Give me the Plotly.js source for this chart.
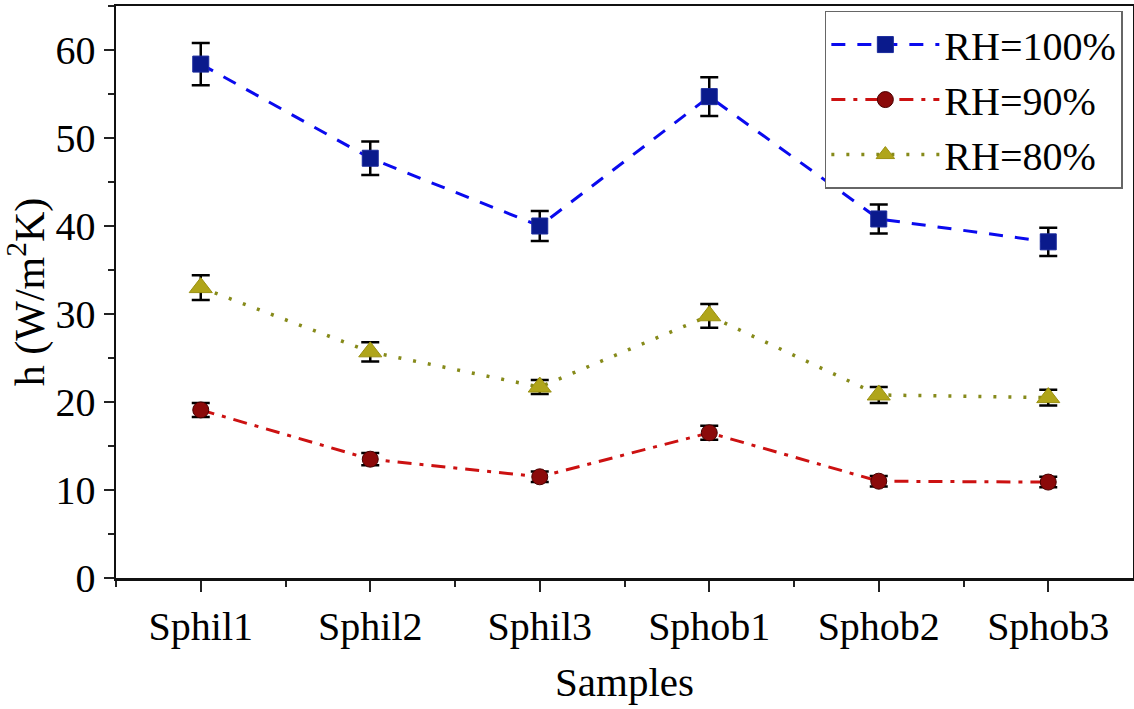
<!DOCTYPE html>
<html>
<head>
<meta charset="utf-8">
<script src="https://cdn.plot.ly/plotly-3.0.1.min.js"></script>
<style>html,body{margin:0;padding:0;background:#fff;}#chart{width:1134px;height:709px;}</style>
</head>
<body>
<div id="chart"></div>
<script>
var categories = ["Sphil1", "Sphil2", "Sphil3", "Sphob1", "Sphob2", "Sphob3"];
var rh100 = [58.4, 47.7, 40.0, 54.7, 40.8, 38.2];
var rh100Err = [2.4, 1.9, 1.7, 2.2, 1.65, 1.6];
var rh90 = [19.1, 13.5, 11.5, 16.5, 11.0, 10.9];
var rh90Err = [0.8, 0.7, 0.6, 0.8, 0.6, 0.6];
var rh80 = [33.0, 25.7, 21.7, 29.8, 20.8, 20.5];
var rh80Err = [1.4, 1.1, 0.8, 1.35, 0.9, 0.9];
var seriesNames = ["RH=100%", "RH=90%", "RH=80%"];

var xIdx = categories.map(function (c, i) { return i; });
var font = "Liberation Serif, Times New Roman, serif";

function errBar(arr) {
  return {type: 'data', array: arr, visible: true, color: '#000', thickness: 2.5, width: 9};
}

var traces = [
  {x: xIdx, y: rh100, name: seriesNames[0], type: 'scatter', mode: 'lines+markers',
   line: {color: '#0a0aee', width: 3, dash: '14px,12px'},
   marker: {symbol: 'square', size: 16, color: '#0a1a8c', line: {color: '#1a2a9c', width: 1}},
   error_y: errBar(rh100Err)},
  {x: xIdx, y: rh90, name: seriesNames[1], type: 'scatter', mode: 'lines+markers',
   line: {color: '#cc1111', width: 3, dash: '14px,8px,4px,8px'},
   marker: {symbol: 'circle', size: 16, color: '#8b0a0a', line: {color: '#4a0000', width: 1}},
   error_y: errBar(rh90Err)},
  {x: xIdx, y: rh80, name: seriesNames[2], type: 'scatter', mode: 'lines+markers',
   line: {color: '#868a1a', width: 3.5, dash: '3px,12px'},
   marker: {symbol: 'triangle-up', size: 20, color: '#b0a51a', line: {color: '#9a9010', width: 1}},
   error_y: errBar(rh80Err)}
];

var layout = {
  width: 1134, height: 709,
  margin: {l: 116, r: 1, t: 6, b: 131},
  paper_bgcolor: '#fff', plot_bgcolor: '#fff',
  font: {family: font, color: '#000', size: 40},
  showlegend: true,
  legend: {x: 0.697, y: 0.992, xanchor: 'left', yanchor: 'top',
    bgcolor: 'rgba(255,255,255,1)', bordercolor: '#666', borderwidth: 1.5,
    font: {family: font, size: 40, color: '#000'}, itemwidth: 108,
    tracegroupgap: 0},
  xaxis: {
    range: [-0.5, 5.5], tickmode: 'array', tickvals: xIdx, ticktext: categories,
    showgrid: false, zeroline: false, showline: true, linecolor: '#111', linewidth: 2.5,
    mirror: true, ticks: 'outside', ticklen: 11, tickwidth: 2, tickcolor: '#222',
    tickfont: {family: font, size: 40, color: '#000'},
    minor: {tickmode: 'array', tickvals: [-0.5, 0.5, 1.5, 2.5, 3.5, 4.5], ticks: 'outside', ticklen: 6, tickwidth: 2, tickcolor: '#222', showgrid: false},
    title: {text: 'Samples', font: {family: font, size: 41, color: '#000'}, standoff: 20}
  },
  yaxis: {
    range: [0, 65], tickmode: 'linear', tick0: 0, dtick: 10,
    showgrid: false, zeroline: false, showline: true, linecolor: '#111', linewidth: 2.5,
    mirror: true, ticks: 'outside', ticklen: 10, tickwidth: 2, tickcolor: '#222',
    tickfont: {family: font, size: 40, color: '#000'},
    minor: {dtick: 5, tick0: 0, ticks: 'outside', ticklen: 6, tickwidth: 2, tickcolor: '#222', showgrid: false},
    title: {text: 'h (W/m<sup>2</sup>K)', font: {family: font, size: 42, color: '#000'}, standoff: 4}
  }
};

Plotly.newPlot('chart', traces, layout, {displayModeBar: false, staticPlot: true});
</script>
</body>
</html>
